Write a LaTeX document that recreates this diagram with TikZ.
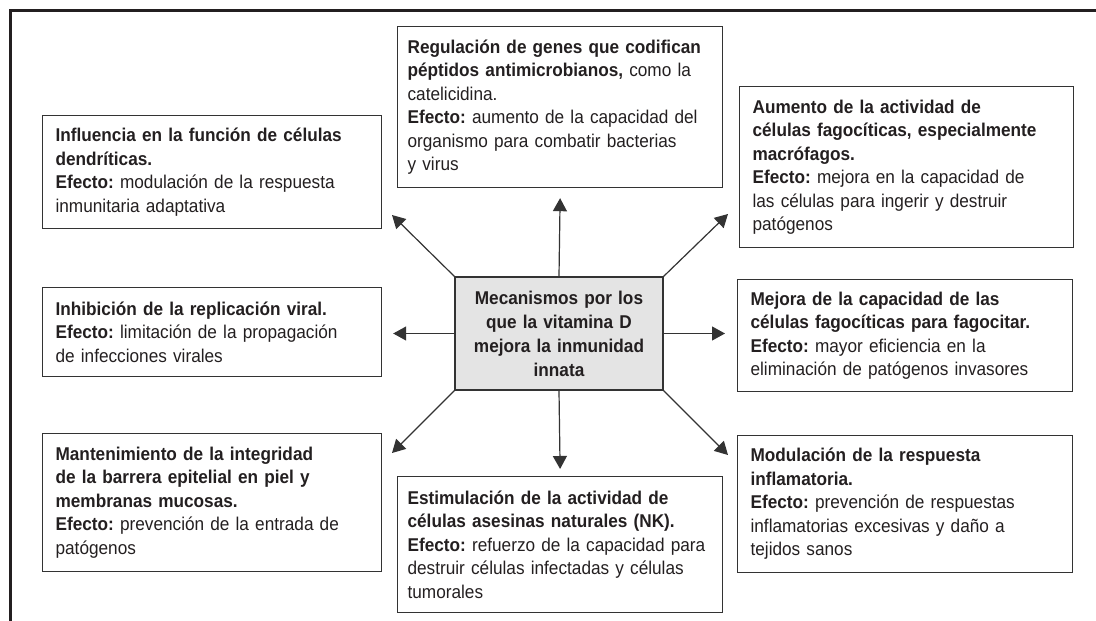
\documentclass[tikz,border=0pt]{standalone}
\usepackage{fontspec}
\setmainfont{Liberation Sans}[FakeStretch=0.93]
\usetikzlibrary{arrows.meta}
\definecolor{linegray}{HTML}{333333}
\definecolor{boxfill}{HTML}{E4E4E4}
\definecolor{textgray}{HTML}{231F20}
\frenchspacing
\begin{document}
\begin{tikzpicture}[x=1pt, y=-1pt,
	every node/.style = {shape=rectangle, draw=linegray, line width=1.2pt, align=left, anchor=north west, inner xsep=13pt, inner ysep=0pt, text=textgray, font=\fontsize{18.5}{23.5}\selectfont},
	mech/.style = {fill=boxfill, align=center, anchor=center, inner xsep=0pt, text width=208pt, minimum height=113pt, font=\bfseries\fontsize{18.5}{24}\selectfont},
	wide/.style = {inner xsep=10pt, text width=305pt},
	arrow/.style = {draw=linegray, line width=1.2pt, -{Triangle[length=13pt, width=14pt]}}]
	\useasboundingbox (0,0) rectangle (1096,621);
	\draw[line width=3pt, textgray] (1096,10) -- (10,10) -- (10,621);
	\node[mech] (vitd) at (559,333.5) {Mecanismos por los\\que la vitamina D\\mejora la inmunidad\\innata};
	\node[wide, minimum height=161pt] (genes) at (397,26) {\textbf{Regulación de genes que codifican}\\\textbf{péptidos antimicrobianos,} como la\\catelicidina.\\\textbf{Efecto:} aumento de la capacidad del\\organismo para combatir bacterias\\y virus};
	\node[text width=313pt, minimum height=113pt] (dendr) at (42,115) {\textbf{Influencia en la función de células}\\\textbf{dendríticas.}\\\textbf{Efecto:} modulación de la respuesta\\inmunitaria adaptativa};
	\node[text width=308pt, minimum height=161pt] (macro) at (739,86) {\textbf{Aumento de la actividad de}\\\textbf{células fagocíticas, especialmente}\\\textbf{macrófagos.}\\\textbf{Efecto:} mejora en la capacidad de\\las células para ingerir y destruir\\patógenos};
	\node[text width=313pt, minimum height=89pt] (viral) at (42,287) {\textbf{Inhibición de la replicación viral.}\\\textbf{Efecto:} limitación de la propagación\\de infecciones virales};
	\node[text width=309pt, minimum height=112pt] (fago) at (737,279) {\textbf{Mejora de la capacidad de las}\\\textbf{células fagocíticas para fagocitar.}\\\textbf{Efecto:} mayor eficiencia en la\\eliminación de patógenos invasores};
	\node[text width=313pt, minimum height=138pt] (barrera) at (42,433) {\textbf{Mantenimiento de la integridad}\\\textbf{de la barrera epitelial en piel y}\\\textbf{membranas mucosas.}\\\textbf{Efecto:} prevención de la entrada de\\patógenos};
	\node[wide, minimum height=136pt] (nk) at (397,476) {\textbf{Estimulación de la actividad de}\\\textbf{células asesinas naturales (NK).}\\\textbf{Efecto:} refuerzo de la capacidad para\\destruir células infectadas y células\\tumorales};
	\node[text width=309pt, minimum height=137pt] (inflam) at (737,435) {\textbf{Modulación de la respuesta}\\\textbf{inflamatoria.}\\\textbf{Efecto:} prevención de respuestas\\inflamatorias excesivas y daño a\\tejidos sanos};
	\coordinate (tipdendr) at (392,215);
	\coordinate (tipmacro) at (728,214);
	\coordinate (tipbarrera) at (392,453);
	\coordinate (tipinflam) at (728,455);
	\draw[arrow] (vitd.north) -- ([yshift=-10pt]genes.south);
	\draw[arrow] (vitd.south) -- ([yshift=7pt]nk.north);
	\draw[arrow] (vitd.west) -- ([xshift=11pt]viral.east |- vitd.west);
	\draw[arrow] (vitd.east) -- ([xshift=-12pt]fago.west |- vitd.east);
	\draw[arrow] (vitd.north west) -- (tipdendr);
	\draw[arrow] (vitd.north east) -- (tipmacro);
	\draw[arrow] (vitd.south west) -- (tipbarrera);
	\draw[arrow] (vitd.south east) -- (tipinflam);
\end{tikzpicture}
\end{document}
